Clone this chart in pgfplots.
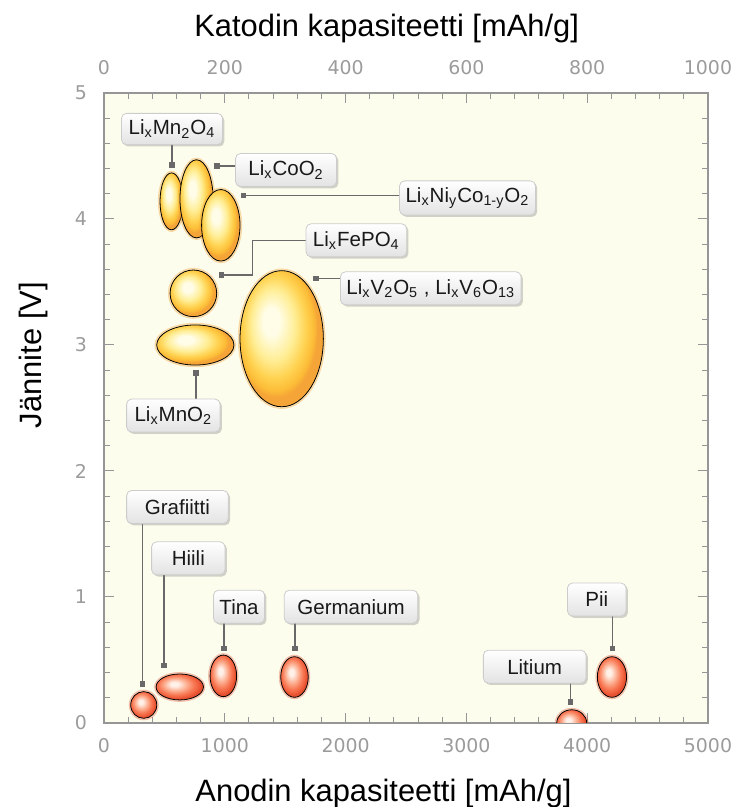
\documentclass[border=0pt]{standalone}
\usepackage{pgfplots}
\pgfplotsset{compat=1.18}
\usepackage{pgfplotstable}
\usepackage{fontspec}
\setmainfont{Liberation Sans}
\newfontfamily\dejavu{DejaVu Sans}
\usetikzlibrary{shadows}

\definecolor{bgcream}{RGB}{253,253,238}
\definecolor{axgray}{RGB}{150,150,150}
\definecolor{tickgray}{RGB}{155,155,155}
\definecolor{leadgray}{RGB}{105,105,105}
\definecolor{cA}{RGB}{255,253,232}
\definecolor{cB}{RGB}{255,238,150}
\definecolor{cC}{RGB}{255,210,80}
\definecolor{cD}{RGB}{252,188,55}
\definecolor{cE}{RGB}{245,165,55}
\definecolor{aA}{RGB}{255,240,232}
\definecolor{aB}{RGB}{252,175,145}
\definecolor{aC}{RGB}{248,118,82}
\definecolor{aD}{RGB}{240,95,60}
\definecolor{aE}{RGB}{228,80,48}

\pgfdeclareradialshading{cathball}{\pgfpoint{-7bp}{7bp}}{color(0bp)=(cA); color(5bp)=(cA); color(13bp)=(cB); color(19bp)=(cC); color(23bp)=(cD); color(25bp)=(cE); color(50bp)=(cE)}
\pgfdeclareradialshading{anodball}{\pgfpoint{-6bp}{6bp}}{color(0bp)=(aA); color(4bp)=(aA); color(12bp)=(aB); color(19bp)=(aC); color(23bp)=(aD); color(25bp)=(aE); color(50bp)=(aE)}

% cathode materials: centre (x = anode scale, y = V), half widths
\pgfplotstableread{
x y rx ry
559 4.14 95 0.226
766 4.16 137 0.31
967 3.95 159 0.284
740 3.41 193 0.185
756 3.00 320 0.159
1471 3.05 345 0.54
}\cathode

% anode materials
\pgfplotstableread{
x y rx ry
329 0.143 108 0.106
627 0.286 196 0.103
988 0.374 110 0.165
1577 0.365 114 0.161
4205 0.365 121 0.161
3872 0.0 124 0.105
}\anode

\pgfplotstableread{
x y
563 4.429
933 4.421
1153 4.185
974 3.556
1755 3.529
762 2.778
317 0.31
497 0.455
993 0.593
1581 0.593
4208 0.593
3863 0.169
}\anchors

\tikzset{lbl/.style={rounded corners=2.5bp, draw=gray!40, top color=white, bottom color=gray!22,
  drop shadow={shadow xshift=0.9bp, shadow yshift=-0.9bp, opacity=0.35},
  font=\fontsize{10.3}{12}\selectfont, text=black!90, inner xsep=3bp, minimum height=16.5bp}}

\begin{document}
\begin{tikzpicture}
\useasboundingbox (-52bp,-42bp) rectangle (316.5bp,361.5bp);
\begin{axis}[
  scale only axis, width=302bp, height=315bp,
  xmin=0, xmax=5000, ymin=0, ymax=5,
  xtick={0,1000,...,5000}, ytick={0,1,...,5},
  minor x tick num=4, minor y tick num=4,
  tick align=inside,
  major tick length=5bp, minor tick length=3bp,
  axis background/.style={fill=bgcream},
  axis line style={draw=axgray, line width=0.6bp},
  tick style={draw=axgray, line width=0.5bp},
  /pgf/number format/assume math mode=true,
  /pgf/number format/set thousands separator={},
  ticklabel style={font=\dejavu\fontsize{9.5}{11}\selectfont, text=tickgray},
  xticklabel shift=4bp, yticklabel shift=5bp,
  xlabel={Anodin kapasiteetti [mAh/g]},
  ylabel={Jännite [V]},
  title={Katodin kapasiteetti [mAh/g]},
  label style={font=\fontsize{15.5}{18}\selectfont},
  xlabel style={at={(axis description cs:0.4627,-0.125)}, anchor=base},
  ylabel style={at={(axis description cs:-0.1035,0.584)}, anchor=base},
  title style={at={(axis description cs:0.468,1.071)}, anchor=base, font=\fontsize{15.5}{18}\selectfont},
]
% cathode ellipses
\addplot[scatter, only marks, mark=*, mark size=0pt, mark options={draw=none, fill=none},
  visualization depends on={\thisrow{rx} \as \rx},
  visualization depends on={\thisrow{ry} \as \ry},
  scatter/@pre marker code/.code={%
    \fill[cE, opacity=0.3] (0,0) ellipse [x radius={\rx*0.0604bp+0.9bp}, y radius={\ry*63bp+0.9bp}];
    \shade[shading=cathball] (0,0) ellipse [x radius={\rx*0.0604bp}, y radius={\ry*63bp}];},
  scatter/@post marker code/.code={}]
  table[x=x, y=y] {\cathode};
% anode ellipses
\addplot[scatter, only marks, mark=*, mark size=0pt, mark options={draw=none, fill=none},
  clip marker paths=true,
  visualization depends on={\thisrow{rx} \as \rx},
  visualization depends on={\thisrow{ry} \as \ry},
  scatter/@pre marker code/.code={%
    \fill[aE, opacity=0.25] (0,0) ellipse [x radius={\rx*0.0604bp+0.8bp}, y radius={\ry*63bp+0.8bp}];
    \shade[shading=anodball] (0,0) ellipse [x radius={\rx*0.0604bp}, y radius={\ry*63bp}];},
  scatter/@post marker code/.code={}]
  table[x=x, y=y] {\anode};
% leader lines
\addplot[leadgray, line width=0.6bp] coordinates {(563,4.429) (563,4.714)};
\addplot[leadgray, line width=0.6bp] coordinates {(933,4.421) (1507,4.421)};
\addplot[leadgray, line width=0.6bp] coordinates {(1153,4.185) (3009,4.185)};
\addplot[leadgray, line width=0.6bp] coordinates {(974,3.556) (1228,3.556) (1228,3.828) (2089,3.828)};
\addplot[leadgray, line width=0.6bp] coordinates {(1755,3.529) (2705,3.529)};
\addplot[leadgray, line width=0.6bp] coordinates {(762,2.778) (762,2.44)};
\addplot[leadgray, line width=0.6bp] coordinates {(317,0.31) (317,1.714)};
\addplot[leadgray, line width=0.6bp] coordinates {(497,0.455) (497,1.307)};
\addplot[leadgray, line width=0.6bp] coordinates {(993,0.593) (993,0.923)};
\addplot[leadgray, line width=0.6bp] coordinates {(1581,0.593) (1581,0.923)};
\addplot[leadgray, line width=0.6bp] coordinates {(4208,0.593) (4208,0.98)};
\addplot[leadgray, line width=0.6bp] coordinates {(3863,0.169) (3863,0.447)};
\addplot[only marks, mark=square*, mark size=1.1bp, color=leadgray] table[x=x, y=y] {\anchors};
% label boxes
\node[lbl, minimum width=50.5bp, minimum height=14.5bp] at (axis cs:563,4.714) {Li\textsubscript{x}Mn\textsubscript{2}O\textsubscript{4}};
\node[lbl, minimum width=50.5bp] at (axis cs:1507,4.389) {Li\textsubscript{x}CoO\textsubscript{2}};
\node[lbl, minimum width=66.5bp] at (axis cs:3009,4.167) {Li\textsubscript{x}Ni\textsubscript{y}Co\textsubscript{1-y}O\textsubscript{2}};
\node[lbl, minimum width=50.3bp] at (axis cs:2089,3.831) {Li\textsubscript{x}FePO\textsubscript{4}};
\node[lbl, minimum width=87.5bp] at (axis cs:2705,3.45) {Li\textsubscript{x}V\textsubscript{2}O\textsubscript{5} , Li\textsubscript{x}V\textsubscript{6}O\textsubscript{13}};
\node[lbl, minimum width=46.7bp] at (axis cs:574,2.44) {Li\textsubscript{x}MnO\textsubscript{2}};
\node[lbl, minimum width=50.8bp] at (axis cs:608,1.714) {Grafiitti};
\node[lbl, minimum width=36.7bp] at (axis cs:698,1.307) {Hiili};
\node[lbl, minimum width=25bp] at (axis cs:1118,0.923) {Tina};
\node[lbl, minimum width=66.7bp] at (axis cs:2045,0.923) {Germanium};
\node[lbl, minimum width=29.3bp] at (axis cs:4079,0.98) {Pii};
\node[lbl, minimum width=51.3bp] at (axis cs:3565,0.447) {Litium};
\end{axis}
\begin{axis}[
  scale only axis, width=302bp, height=315bp,
  xmin=0, xmax=1000, ymin=0, ymax=5,
  axis x line*=top, hide y axis,
  xtick={0,200,...,1000}, major tick length=0pt, minor x tick num=0,
  axis line style={draw=axgray, line width=0.6bp, -},
  /pgf/number format/assume math mode=true,
  /pgf/number format/set thousands separator={},
  ticklabel style={font=\dejavu\fontsize{9.5}{11}\selectfont, text=tickgray},
  xticklabel shift=5.5bp,
]
\end{axis}
\end{tikzpicture}
\end{document}
